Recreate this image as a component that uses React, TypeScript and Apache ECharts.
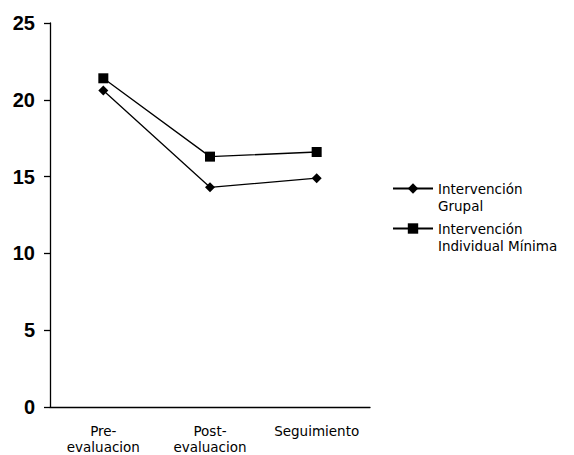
import React, { useEffect, useRef } from "react";
import * as echarts from "echarts";

const categories = ["Pre-\nevaluacion", "Post-\nevaluacion", "Seguimiento"];
const grupal = [20.6, 14.3, 14.9];
const individual = [21.4, 16.3, 16.6];
const seriesNames = ["Intervención Grupal", "Intervención Individual Mínima"];
const legendLabels: Record<string, string> = {
  "Intervención Grupal": "\nIntervención\nGrupal",
  "Intervención Individual Mínima": "\nIntervención\nIndividual Mínima",
};

export default function App() {
  const ref = useRef<HTMLDivElement>(null);
  useEffect(() => {
    if (!ref.current) return;
    const chart = echarts.init(ref.current, undefined, { renderer: "svg" });
    const legendText = {
      color: "#000",
      fontFamily: "DejaVu Sans",
      fontSize: 13.5,
      lineHeight: 17,
    };
    const legendBase = {
      left: 392,
      padding: 0,
      itemWidth: 40,
      itemHeight: 13,
      itemGap: 4,
      formatter: (n: string) => legendLabels[n],
      textStyle: legendText,
    };
    chart.setOption({
      animation: false,
      backgroundColor: "#fff",
      grid: { left: 50, top: 23, width: 320, height: 385 },
      legend: [
        { ...legendBase, data: [seriesNames[0]], top: 163 },
        { ...legendBase, data: [seriesNames[1]], top: 203 },
      ],
      xAxis: {
        type: "category",
        data: categories,
        boundaryGap: true,
        axisLine: { lineStyle: { color: "#000", width: 1.3 } },
        axisTick: { show: false },
        axisLabel: {
          color: "#000",
          fontFamily: "DejaVu Sans",
          fontSize: 13.5,
          lineHeight: 16,
          margin: 16,
          interval: 0,
        },
        splitLine: { show: false },
      },
      yAxis: {
        type: "value",
        min: 0,
        max: 25,
        interval: 5,
        axisLine: { show: true, lineStyle: { color: "#000", width: 1.3 } },
        axisTick: { show: true, length: 6, lineStyle: { color: "#000", width: 1.3 } },
        axisLabel: {
          color: "#000",
          fontFamily: "Liberation Sans",
          fontWeight: "bold",
          fontSize: 20,
          margin: 15,
        },
        splitLine: { show: false },
      },
      series: [
        {
          name: seriesNames[0],
          type: "line",
          data: grupal,
          symbol: "diamond",
          symbolSize: 10,
          lineStyle: { color: "#000", width: 1.3 },
          itemStyle: { color: "#000" },
        },
        {
          name: seriesNames[1],
          type: "line",
          data: individual,
          symbol: "rect",
          symbolSize: 10,
          lineStyle: { color: "#000", width: 1.3 },
          itemStyle: { color: "#000" },
        },
      ],
    });
    return () => chart.dispose();
  }, []);
  return (
    <div
      ref={ref}
      style={{ position: "absolute", left: 0, top: 0, width: 574, height: 455 }}
    />
  );
}
